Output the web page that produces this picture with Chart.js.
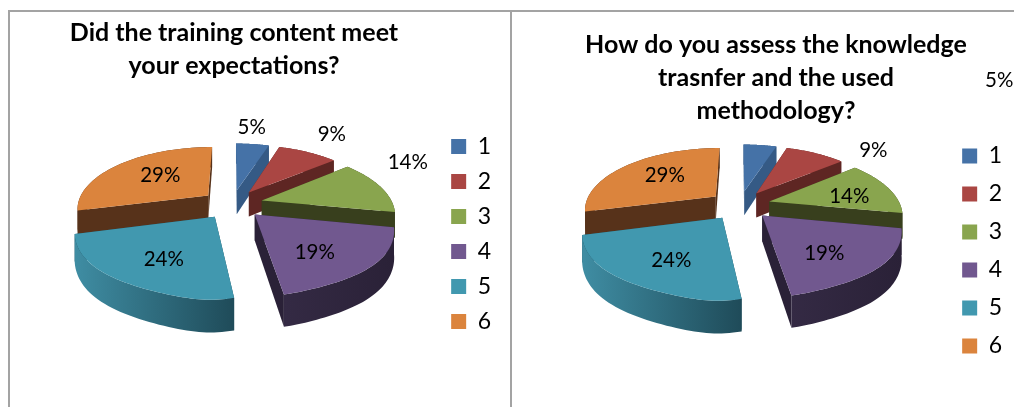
<!DOCTYPE html>
<html>
<head>
<meta charset="utf-8">
<script src="https://cdn.jsdelivr.net/npm/chart.js@4"></script>
<style>
  html, body { margin: 0; padding: 0; background: #fff; overflow: hidden; width: 1014px; height: 407px; }
  canvas { position: absolute; top: 0; }
  #chart1 { left: -33px; }
  #chart2 { left: 540px; }
  .rule { position: absolute; background: #a3a3a3; }
</style>
</head>
<body>
<div class="rule" style="left:8px;top:10px;width:1006px;height:2px"></div>
<div class="rule" style="left:8px;top:10px;width:2px;height:397px"></div>
<div class="rule" style="left:510px;top:10px;width:2px;height:397px"></div>
<canvas id="chart1" width="540" height="407"></canvas>
<canvas id="chart2" width="474" height="407"></canvas>
<script>
const categories = ['1', '2', '3', '4', '5', '6'];
const contentValues = [5, 9, 14, 19, 24, 29];
const methodValues = [5, 9, 14, 19, 24, 29];
const contentTitle = ['Did the training content meet', 'your expectations?'];
const methodTitle = ['How do you assess the knowledge', 'trasnfer and the used', 'methodology?'];

const topColors = ['#4572a7', '#aa4643', '#89a54e', '#71588f', '#4198af', '#db843d'];
const wallLeft = ['#355a85', '#5e2623', '#383f1d', '#342a44', '#3f8da3', '#57321a'];
const wallRight = ['#355a85', '#5e2623', '#383f1d', '#2a2137', '#1f4b59', '#57321a'];

// label position relative to the tip of its slice
const contentNudge = [[15, -65], [83, -60], [146, -40], [60, 36], [-51, 41], [-48, -22]];
const methodNudge = [[255, -113], [117, -45], [80, -7], [62, 36], [-51, 41], [-51, -23]];

// Chart.js has no 3D pie, so the arcs it lays out get redrawn tilted
const tiltPlugin = {
    id: 'tilt',
    beforeDatasetsDraw(chart, args, opts) {
        const ctx = chart.ctx;
        const meta = chart.getDatasetMeta(0);
        const values = chart.data.datasets[0].data;
        const arcs = meta.data.map((arc, i) => ({ arc, i, mid: (arc.startAngle + arc.endAngle) / 2 }));
        arcs.sort((a, b) => Math.sin(a.mid) - Math.sin(b.mid));

        arcs.forEach(({ arc, i, mid }) => {
            const R = arc.outerRadius;
            const off = arc.options.offset;
            const cx = arc.x + opts.shiftX;
            const cy = arc.y + opts.shiftY;

            const project = (angle, r, z) => {
                const y = off * Math.sin(mid) + r * Math.sin(angle);
                const s = 1 / (1 - opts.perspective * y / R);
                // the very front of the rim pulls back in a little
                const pull = Math.sin(angle) > 0 ? 1 - 0.3 * Math.pow(Math.sin(angle), 8) : 1;
                const x = off * Math.cos(mid) + r * Math.cos(angle) * pull;
                return [cx + x * s, cy + opts.squash * y * s + z * opts.depth * s];
            };
            const rim = (z) => {
                const pts = [];
                for (let n = 0; n <= 48; n++) {
                    pts.push(project(arc.startAngle + (arc.endAngle - arc.startAngle) * n / 48, R, z));
                }
                return pts;
            };
            const fillPath = (pts, style) => {
                ctx.beginPath();
                pts.forEach((p, n) => n ? ctx.lineTo(p[0], p[1]) : ctx.moveTo(p[0], p[1]));
                ctx.closePath();
                ctx.fillStyle = style;
                ctx.fill();
            };

            const top = rim(0);
            const bottom = rim(1);
            const apexTop = project(0, 0, 0);
            const apexBottom = project(0, 0, 1);

            // radial walls
            fillPath([apexTop, top[0], bottom[0], apexBottom], wallRight[i]);
            fillPath([apexTop, top[48], bottom[48], apexBottom], wallRight[i]);

            // outer wall
            const xs = top.map(p => p[0]);
            const grad = ctx.createLinearGradient(Math.min(...xs), 0, Math.max(...xs), 0);
            grad.addColorStop(0, wallLeft[i]);
            grad.addColorStop(1, wallRight[i]);
            fillPath(top.concat(bottom.slice().reverse()), grad);

            // top face
            fillPath([apexTop].concat(top), topColors[i]);

            arc.$apex = apexTop;
        });

        ctx.font = '20.5px Lato';
        ctx.fillStyle = '#000';
        ctx.textAlign = 'center';
        ctx.textBaseline = 'middle';
        meta.data.forEach((arc, i) => {
            const n = opts.nudge[i];
            ctx.fillText(values[i] + '%', arc.$apex[0] + n[0], arc.$apex[1] + n[1] + 2);
        });
        return false;
    }
};

function makePie(id, values, title, titleTop, legendGap, padding, tilt) {
    return new Chart(document.getElementById(id), {
        type: 'pie',
        plugins: [tiltPlugin],
        data: {
            labels: categories,
            datasets: [{
                data: values,
                backgroundColor: topColors,
                borderWidth: 0,
                radius: 131,
                offset: 31
            }]
        },
        options: {
            responsive: false,
            animation: false,
            layout: { padding },
            plugins: {
                tooltip: { enabled: false },
                title: {
                    display: true,
                    text: title,
                    color: '#000',
                    font: { family: 'Lato', size: 25, weight: 'bold', lineHeight: 1.32 },
                    padding: { top: titleTop, bottom: 0 }
                },
                legend: {
                    position: 'right',
                    fullSize: false,
                    labels: {
                        boxWidth: 15,
                        boxHeight: 15,
                        padding: legendGap,
                        color: '#000',
                        font: { family: 'Lato', size: 23 }
                    }
                },
                tilt
            }
        }
    });
}

makePie('chart1', contentValues, contentTitle, 16, 12,
    { left: 0, right: 6, top: 0, bottom: 21 },
    { shiftX: 29, shiftY: -30, perspective: 0.197, squash: 0.465, depth: 25, nudge: contentNudge });

makePie('chart2', methodValues, methodTitle, 28, 15,
    { left: 0, right: 2, top: 0, bottom: 32 },
    { shiftX: -4, shiftY: -46, perspective: 0.197, squash: 0.465, depth: 25, nudge: methodNudge });
</script>
</body>
</html>
